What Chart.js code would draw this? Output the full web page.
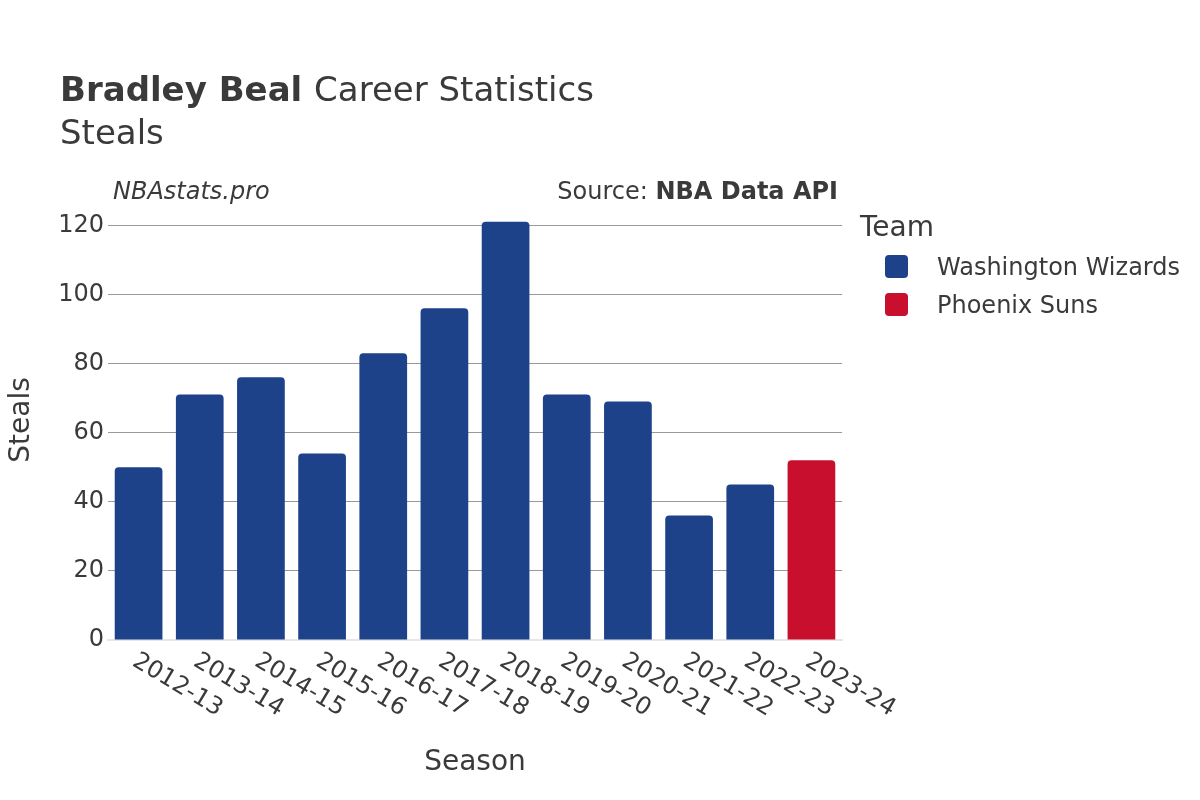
<!DOCTYPE html>
<html>
<head>
<meta charset="utf-8">
<script src="https://cdn.jsdelivr.net/npm/chart.js@4"></script>
<style>
  html, body { margin: 0; padding: 0; background: #fff; }
  #wrap { width: 1200px; height: 800px; position: relative; }
</style>
</head>
<body>
<div id="wrap"><canvas id="chart" width="1200" height="800"></canvas></div>
<script>
// chart data
const seasons = ['2012-13', '2013-14', '2014-15', '2015-16', '2016-17', '2017-18',
                 '2018-19', '2019-20', '2020-21', '2021-22', '2022-23', '2023-24'];
const wizardsSteals = [50, 71, 76, 54, 83, 96, 121, 71, 69, 36, 45, null];
const sunsSteals = [null, null, null, null, null, null, null, null, null, null, null, 52];
const yTicks = [0, 20, 40, 60, 80, 100, 120];

const FONT = "'DejaVu Sans', sans-serif";
const TEXT = '#3a3a3a';

// draws titles, rotated season labels, axis titles and the legend
const decorations = {
    id: 'decorations',
    afterDraw(chart) {
        const ctx = chart.ctx;
        const area = chart.chartArea;
        const x = chart.scales.x;
        ctx.save();
        ctx.fillStyle = TEXT;
        ctx.textBaseline = 'alphabetic';

        // title
        ctx.textAlign = 'left';
        ctx.font = 'bold 34px ' + FONT;
        ctx.fillText('Bradley Beal', 60, 101);
        const w = ctx.measureText('Bradley Beal ').width;
        ctx.font = '34px ' + FONT;
        ctx.fillText('Career Statistics', 60 + w, 101);
        ctx.fillText('Steals', 60, 144);

        // credits
        ctx.font = 'italic 24px ' + FONT;
        ctx.fillText('NBAstats.pro', 113, 199);
        ctx.textAlign = 'right';
        ctx.font = 'bold 24px ' + FONT;
        ctx.fillText('NBA Data API', 838, 199);
        const bw = ctx.measureText('NBA Data API').width;
        ctx.font = '24px ' + FONT;
        ctx.fillText('Source: ', 838 - bw, 199);

        // season labels
        ctx.font = '24px ' + FONT;
        ctx.textAlign = 'left';
        ctx.textBaseline = 'top';
        seasons.forEach((s, i) => {
            ctx.save();
            ctx.translate(x.getPixelForValue(i) + 2, area.bottom + 9);
            ctx.rotate(31 * Math.PI / 180);
            ctx.fillText(s, 0, 0);
            ctx.restore();
        });

        // axis titles
        ctx.textAlign = 'center';
        ctx.textBaseline = 'alphabetic';
        ctx.font = '28px ' + FONT;
        ctx.fillText('Season', (area.left + area.right) / 2, 770);
        ctx.save();
        ctx.translate(29, 420);
        ctx.rotate(-Math.PI / 2);
        ctx.fillText('Steals', 0, 0);
        ctx.restore();

        // legend
        ctx.textAlign = 'left';
        ctx.font = '28px ' + FONT;
        ctx.fillText('Team', 860, 236);
        ctx.font = '24px ' + FONT;
        chart.data.datasets.forEach((ds, i) => {
            const y = 255 + i * 38;
            ctx.fillStyle = ds.backgroundColor;
            ctx.beginPath();
            ctx.roundRect(885, y, 23, 23, 4);
            ctx.fill();
            ctx.fillStyle = TEXT;
            ctx.fillText(ds.label, 937, y + 20);
        });
        ctx.restore();
    }
};

new Chart(document.getElementById('chart'), {
    type: 'bar',
    data: {
        labels: seasons,
        datasets: [
            { label: 'Washington Wizards', data: wizardsSteals, backgroundColor: '#1d428a' },
            { label: 'Phoenix Suns', data: sunsSteals, backgroundColor: '#c8102e' }
        ]
    },
    options: {
        responsive: false,
        animation: false,
        devicePixelRatio: 1,
        layout: { padding: { top: 208, right: 358, bottom: 160, left: 0 } },
        datasets: {
            bar: {
                grouped: false,
                barPercentage: 0.78,
                categoryPercentage: 1,
                borderRadius: 4,
                borderSkipped: 'bottom'
            }
        },
        plugins: {
            legend: { display: false },
            tooltip: { enabled: false }
        },
        scales: {
            x: {
                afterFit: s => { s.height = 0; },
                ticks: { display: false },
                grid: { display: false },
                border: { color: '#e6e6e6', width: 2 }
            },
            y: {
                min: 0,
                max: 125,
                afterFit: s => { s.width = 108; },
                afterBuildTicks: s => { s.ticks = yTicks.map(v => ({ value: v })); },
                ticks: {
                    color: TEXT,
                    font: { family: FONT, size: 24 },
                    padding: 4
                },
                grid: {
                    color: ctx => ctx.tick && ctx.tick.value === 0 ? 'rgba(0,0,0,0)' : '#999999',
                    lineWidth: 1,
                    drawTicks: false
                },
                border: { display: false }
            }
        }
    },
    plugins: [decorations]
});
</script>
</body>
</html>
